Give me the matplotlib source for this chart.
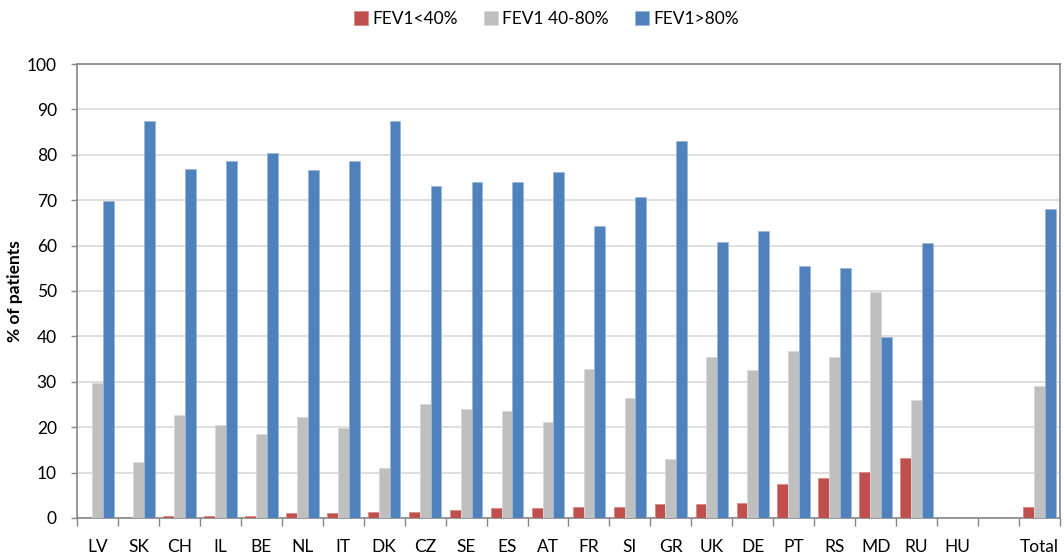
import numpy as np
from matplotlib import pyplot as plt

# Countries (one empty slot before Total, as in the original chart)
countries = ['LV', 'SK', 'CH', 'IL', 'BE', 'NL', 'IT', 'DK', 'CZ', 'SE', 'ES', 'AT',
             'FR', 'SI', 'GR', 'UK', 'DE', 'PT', 'RS', 'MD', 'RU', 'HU', '', 'Total']

fev1_low = [0.0, 0.0, 0.4, 0.4, 0.4, 1.1, 1.1, 1.4, 1.4, 1.7, 2.1, 2.1,
            2.4, 2.4, 3.1, 3.1, 3.4, 7.5, 8.9, 10.2, 13.3, 0.0, np.nan, 2.4]
fev1_mid = [29.8, 12.3, 22.6, 20.5, 18.5, 22.2, 19.8, 11.0, 25.0, 24.0, 23.6, 21.2,
            32.8, 26.4, 13.0, 35.4, 32.7, 36.8, 35.4, 49.7, 25.9, 0.0, np.nan, 29.1]
fev1_high = [69.8, 87.4, 76.9, 78.6, 80.3, 76.6, 78.6, 87.4, 73.1, 73.9, 73.9, 76.2,
             64.3, 70.7, 83.0, 60.9, 63.3, 55.5, 55.1, 39.9, 60.5, 0.0, np.nan, 68.0]

series_names = ['FEV1<40%', 'FEV1 40-80%', 'FEV1>80%']
colors = ['#C0504D', '#BFBFBF', '#4F81BD']
edges = ['#D98A88', '#D9D9D9', '#9DB7DA']

plt.rcParams['font.family'] = ['Lato', 'DejaVu Sans']

fig = plt.figure(figsize=(10.64, 5.58), dpi=100)
ax = fig.add_axes([0.0724, 0.0717, 0.9238, 0.8136])

x = np.arange(len(countries))
w = 0.265
for i, (vals, name) in enumerate(zip([fev1_low, fev1_mid, fev1_high], series_names)):
    ax.bar(x + (i - 1) * w, vals, width=w, color=colors[i],
           edgecolor=edges[i], linewidth=0.6, label=name, zorder=3)

ax.set_xlim(-0.5, len(countries) - 0.5)
ax.set_ylim(0, 100)
ax.set_yticks(np.arange(0, 101, 10))
ax.yaxis.grid(True, color='#D9D9D9', linewidth=1.2, zorder=0)

# labels at the centres, tick marks at the category boundaries
ax.set_xticks(x)
ax.set_xticklabels(countries)
ax.set_xticks(np.arange(-0.5, len(countries), 1), minor=True)
ax.tick_params(axis='x', which='major', length=0, pad=15, labelsize=12.5)
ax.tick_params(axis='x', which='minor', length=6, width=1, color='#868686', direction='out')
ax.tick_params(axis='y', length=4.5, width=1, color='#868686', pad=10, labelsize=12.5)

for side in ['left', 'right', 'top', 'bottom']:
    ax.spines[side].set_color('#868686')
    ax.spines[side].set_linewidth(1.2)

ax.set_ylabel('% of patients', fontsize=12.5, fontweight='bold', labelpad=3)

fig.legend(loc='center', bbox_to_anchor=(0.5136, 0.966), ncol=3, frameon=False,
           fontsize=12.5, handlelength=0.8, handleheight=0.8, handletextpad=0.25,
           columnspacing=1.5, borderpad=0)

plt.savefig('out.png', dpi=100)
